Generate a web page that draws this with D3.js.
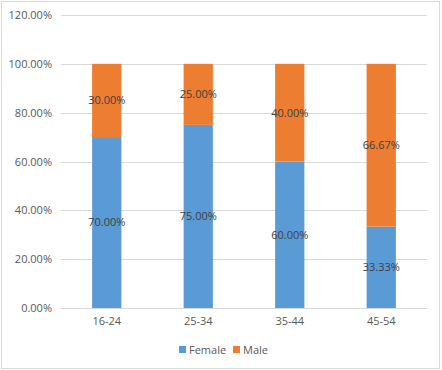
<!DOCTYPE html>
<html>
<head>
<meta charset="utf-8">
<script src="https://cdn.jsdelivr.net/npm/d3@7"></script>
<style>
body { margin: 0; background: #fff; }
text { font-family: "Open Sans", "Liberation Sans", sans-serif; }
</style>
</head>
<body>
<svg id="chart" width="442" height="370"></svg>
<script>
var groups = ["16-24", "25-34", "35-44", "45-54"];
var female = [70, 75, 60, 33.33];
var male = [30, 25, 40, 66.67];
var yTicks = [0, 20, 40, 60, 80, 100, 120];
var seriesNames = ["Female", "Male"];
var colors = ["#5B9BD5", "#ED7D31"];

var svg = d3.select("#chart");
svg.append("rect").attr("x", 1.5).attr("y", 1.5).attr("width", 438).attr("height", 367)
	.attr("fill", "#fff").attr("stroke", "#d9d9d9");

var x = d3.scaleBand().domain(groups).range([61, 427]).paddingInner(0.68).paddingOuter(0.34);
var y = d3.scaleLinear().domain([0, 120]).range([308, 15]);

// grid
svg.append("g").selectAll("line").data(yTicks).enter().append("line")
	.attr("x1", 61).attr("x2", 427)
	.attr("y1", function(d) { return Math.round(y(d)) + 0.5; })
	.attr("y2", function(d) { return Math.round(y(d)) + 0.5; })
	.attr("stroke", "#d9d9d9");

// y axis labels
var yAxis = svg.append("g").attr("transform", "translate(52,0)")
	.call(d3.axisLeft(y).tickValues(yTicks).tickSize(0).tickPadding(0)
		.tickFormat(function(d) { return d.toFixed(2) + "%"; }));
yAxis.select(".domain").remove();
yAxis.selectAll("text").attr("fill", "#595959").style("font-size", "11px").style("font-family", "Open Sans, Liberation Sans, sans-serif");

// x axis labels
var xAxis = svg.append("g").attr("transform", "translate(0,308)")
	.call(d3.axisBottom(x).tickSize(0).tickPadding(9));
xAxis.select(".domain").remove();
xAxis.selectAll("text").attr("fill", "#595959").style("font-size", "11px").style("font-family", "Open Sans, Liberation Sans, sans-serif");

var stackData = groups.map(function(g, i) { return { group: g, Female: female[i], Male: male[i] }; });
var stacked = d3.stack().keys(seriesNames)(stackData);

var layers = svg.append("g").selectAll("g").data(stacked).enter().append("g")
	.attr("fill", function(d, i) { return colors[i]; });

layers.selectAll("rect").data(function(d) { return d; }).enter().append("rect")
	.attr("x", function(d) { return x(d.data.group); })
	.attr("width", x.bandwidth())
	.attr("y", function(d) { return y(d[1]); })
	.attr("height", function(d) { return y(d[0]) - y(d[1]); });

// data labels
layers.selectAll("text").data(function(d) { return d; }).enter().append("text")
	.attr("x", function(d) { return x(d.data.group) + x.bandwidth() / 2; })
	.attr("y", function(d) { return (y(d[0]) + y(d[1])) / 2; })
	.attr("dy", "0.35em")
	.attr("text-anchor", "middle")
	.attr("fill", "#404040")
	.style("font-size", "11px")
	.text(function(d) { return (d[1] - d[0]).toFixed(2) + "%"; });

// legend
var legend = svg.append("g");
var legendX = [179, 233];
seriesNames.forEach(function(name, i) {
	legend.append("rect").attr("x", legendX[i]).attr("y", 346).attr("width", 7).attr("height", 7).attr("fill", colors[i]);
	legend.append("text").attr("x", legendX[i] + 10).attr("y", 350).attr("dy", "0.35em")
		.attr("fill", "#595959").style("font-size", "11px").text(name);
});
</script>
</body>
</html>
